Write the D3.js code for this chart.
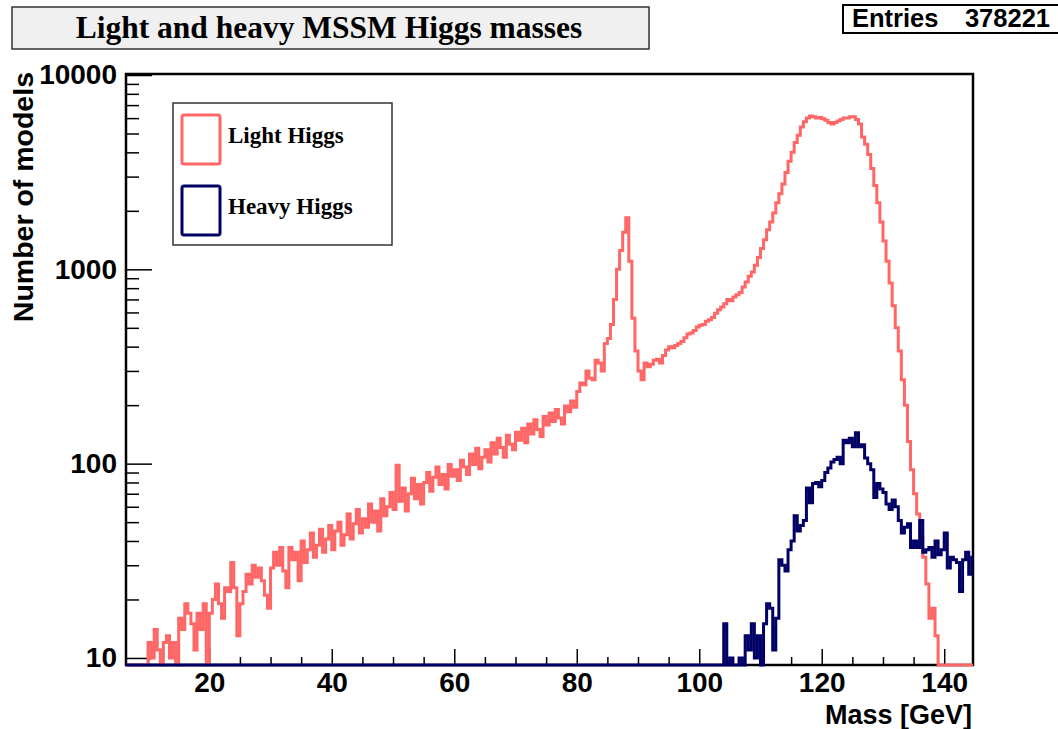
<!DOCTYPE html>
<html>
<head>
<meta charset="utf-8">
<script src="https://cdn.jsdelivr.net/npm/d3@7"></script>
<style>
  body { margin: 0; background: #fff; }
  .axis text { font-family: "Liberation Sans", Arial, sans-serif; font-weight: bold; font-size: 28px; fill: #000; }
  .axis line { stroke: #000; stroke-width: 1.5; }
</style>
</head>
<body>
<div id="chart"></div>
<script>
// histogram contents, 0.5 GeV bins
var binWidth = 0.5;

// light Higgs, first bin starts at 10 GeV
var lightStart = 10;
var lightCounts = [
  12, 10, 14, 11, 0, 12, 13, 10, 12, 9,          // 10 - 14.5
  16, 14, 19, 17, 15, 11, 17, 14, 19, 0,         // 15 - 19.5
  17, 20, 24, 19, 16, 23, 22, 31, 23, 13,        // 20 - 24.5
  19, 22, 27, 24, 30, 26, 29, 25, 21, 18,        // 25 - 29.5
  29, 35, 30, 37, 28, 23, 37, 32, 35, 25,        // 30 - 34.5
  40, 31, 36, 44, 33, 38, 46, 35, 41, 48,        // 35 - 39.5
  36, 45, 50, 38, 43, 55, 41, 49, 58, 44,        // 40 - 44.5
  52, 47, 62, 50, 57, 45, 66, 54, 60, 71,        // 45 - 49.5
  58, 98, 64, 75, 57, 70, 84, 66, 78, 62,        // 50 - 54.5
  80, 90, 72, 85, 96, 78, 88, 74, 99, 86,        // 55 - 59.5
  93, 82, 104, 96, 88, 112, 99, 120, 94, 108,    // 60 - 64.5
  118, 102, 128, 112, 135, 121, 108, 140, 126, 118, // 65 - 69.5
  145, 132, 152, 128, 160, 142, 168, 150, 138, 175, // 70 - 74.5
  158, 182, 165, 190, 172, 160, 198, 185, 210, 195, // 75 - 79.5
  235, 260, 255, 300, 275, 270, 340, 330, 300, 415, // 80 - 84.5
  440, 520, 700, 1000, 1250, 1550, 1840, 1100, 560, 380, // 85 - 89.5
  300, 270, 330, 315, 325, 340, 345, 330, 360, 385, // 90 - 94.5
  400, 395, 405, 415, 425, 445, 465, 470, 485, 505, // 95 - 99.5
  515, 520, 540, 550, 565, 595, 620, 640, 665, 700, // 100 - 104.5
  690, 720, 740, 760, 810, 860, 920, 970, 1050, 1150, // 105 - 109.5
  1280, 1420, 1600, 1750, 1950, 2200, 2450, 2750, 3150, 3600, // 110 - 114.5
  4000, 4500, 4900, 5400, 5750, 6000, 6150, 6100, 6000, 6050, // 115 - 119.5
  5950, 5850, 5700, 5600, 5700, 5800, 5900, 6000, 6000, 6100, // 120 - 124.5
  6100, 5900, 5600, 4800, 4400, 3900, 3300, 2700, 2200, 1750, // 125 - 129.5
  1400, 1100, 850, 650, 500, 380, 270, 200, 130, 93,          // 130 - 134.5
  70, 55, 42, 33, 24, 16, 18, 13, 0, 0,                       // 135 - 139.5
  0, 0, 0, 0, 0, 0, 0, 0, 0, 0                                // 140 - 144.5
];

// heavy Higgs, first bin starts at 104 GeV
var heavyStart = 104;
var heavyCounts = [
  15, 0, 10, 0, 0, 10, 9, 13, 11, 15,            // 104 - 108.5
  10, 13, 0, 15, 19, 18, 11, 16, 32, 30,         // 109 - 113.5
  28, 36, 40, 54, 45, 48, 51, 75, 63, 79,        // 114 - 118.5
  80, 76, 82, 90, 95, 102, 105, 108, 100, 132,   // 119 - 123.5
  128, 135, 122, 144, 122, 125, 107, 100, 93, 67, // 124 - 128.5
  79, 74, 71, 62, 58, 65, 60, 51, 44, 47,        // 129 - 133.5
  49, 37, 40, 37, 51, 35, 36, 37, 33, 40,        // 134 - 138.5
  34, 36, 44, 29, 33, 32, 31, 22, 32, 35,        // 139 - 143.5
  27, 33                                         // 144 - 144.5
];

var xMajorTicks = [20, 40, 60, 80, 100, 120, 140];
var xMinorTicks = [10, 15, 25, 30, 35, 45, 50, 55, 65, 70, 75, 85, 90, 95, 105, 110, 115, 125, 130, 135];
var yMajorTicks = [10, 100, 1000, 10000];
var yMinorTicks = [20, 30, 40, 50, 60, 70, 80, 90, 200, 300, 400, 500, 600, 700, 800, 900,
                   2000, 3000, 4000, 5000, 6000, 7000, 8000, 9000];
var seriesNames = ["Light Higgs", "Heavy Higgs"];
var seriesColors = ["#ff6666", "#000066"];
var entries = 378221;

var width = 1058;
var height = 729;
var frame = { left: 126, right: 973, top: 74, bottom: 665 };
var xMin = 6.4, xMax = 144.7;
var yMin = 9.2, yMax = 10120;

var svg = d3
  .select("#chart")
  .append("svg")
  .attr("width", width)
  .attr("height", height);

var x = d3.scaleLinear().domain([xMin, xMax]).range([frame.left, frame.right]);
var y = d3.scaleLog().domain([yMin, yMax]).range([frame.bottom, frame.top]);

// title box
svg.append("rect")
  .attr("x", 12).attr("y", 7)
  .attr("width", 637).attr("height", 42)
  .attr("fill", "#f0f0f0")
  .attr("stroke", "#333")
  .attr("stroke-width", 1.5);
svg.append("text")
  .attr("x", 329).attr("y", 38)
  .attr("text-anchor", "middle")
  .style("font-family", "'Liberation Serif', 'Times New Roman', serif")
  .style("font-weight", "bold")
  .style("font-size", "31.5px")
  .text("Light and heavy MSSM Higgs masses");

// stats box
svg.append("rect")
  .attr("x", 843).attr("y", 5)
  .attr("width", 222).attr("height", 28)
  .attr("fill", "#fff")
  .attr("stroke", "#000")
  .attr("stroke-width", 2);
svg.append("text")
  .attr("x", 852).attr("y", 27)
  .style("font-family", "'Liberation Sans', Arial, sans-serif")
  .style("font-weight", "bold")
  .style("font-size", "25.5px")
  .text("Entries");
svg.append("text")
  .attr("x", 1050).attr("y", 27)
  .attr("text-anchor", "end")
  .style("font-family", "'Liberation Sans', Arial, sans-serif")
  .style("font-weight", "bold")
  .style("font-size", "25.5px")
  .text(entries);

// axes, ticks drawn inside the frame like ROOT
var gx = svg.append("g")
  .attr("class", "axis")
  .attr("transform", "translate(0," + frame.bottom + ")")
  .call(d3.axisBottom(x).tickValues(xMajorTicks).tickSize(-16).tickPadding(7).tickFormat(d3.format("d")));
gx.select(".domain").remove();

var gxMinor = svg.append("g")
  .attr("class", "axis")
  .attr("transform", "translate(0," + frame.bottom + ")")
  .call(d3.axisBottom(x).tickValues(xMinorTicks).tickSize(-8).tickFormat(""));
gxMinor.select(".domain").remove();

var gy = svg.append("g")
  .attr("class", "axis")
  .attr("transform", "translate(" + frame.left + ",0)")
  .call(d3.axisLeft(y).tickValues(yMajorTicks).tickSize(-26).tickPadding(9).tickFormat(d3.format("d")));
gy.select(".domain").remove();

var gyMinor = svg.append("g")
  .attr("class", "axis")
  .attr("transform", "translate(" + frame.left + ",0)")
  .call(d3.axisLeft(y).tickValues(yMinorTicks).tickSize(-13).tickFormat(""));
gyMinor.select(".domain").remove();

// frame
svg.append("rect")
  .attr("x", frame.left).attr("y", frame.top)
  .attr("width", frame.right - frame.left)
  .attr("height", frame.bottom - frame.top)
  .attr("fill", "none")
  .attr("stroke", "#000")
  .attr("stroke-width", 2.5);

// axis titles
svg.append("text")
  .attr("x", 972).attr("y", 724)
  .attr("text-anchor", "end")
  .style("font-family", "'Liberation Sans', Arial, sans-serif")
  .style("font-weight", "bold")
  .style("font-size", "27px")
  .text("Mass [GeV]");
svg.append("text")
  .attr("transform", "translate(33,72) rotate(-90)")
  .attr("text-anchor", "end")
  .style("font-family", "'Liberation Sans', Arial, sans-serif")
  .style("font-weight", "bold")
  .style("font-size", "28.5px")
  .text("Number of models");

// histograms
svg.append("clipPath")
  .attr("id", "plotclip")
  .append("rect")
  .attr("x", frame.left).attr("y", frame.top)
  .attr("width", frame.right - frame.left)
  .attr("height", frame.bottom - frame.top + 2);

function histPoints(start, counts) {
  var pts = [{ m: xMin, v: 0 }];
  counts.forEach(function (c, i) {
    pts.push({ m: start + i * binWidth, v: c });
  });
  pts.push({ m: start + counts.length * binWidth, v: counts[counts.length - 1] });
  return pts;
}

var step = d3.line()
  .curve(d3.curveStepAfter)
  .x(function (d) { return x(d.m); })
  .y(function (d) { return y(Math.max(d.v, yMin)); });

var series = [histPoints(lightStart, lightCounts), histPoints(heavyStart, heavyCounts)];

svg.append("g")
  .attr("clip-path", "url(#plotclip)")
  .selectAll("path")
  .data(series)
  .enter()
  .append("path")
  .attr("d", step)
  .attr("fill", "none")
  .attr("stroke", function (d, i) { return seriesColors[i]; })
  .attr("stroke-width", 3);

// legend
var legend = svg.append("g");
legend.append("rect")
  .attr("x", 173).attr("y", 103)
  .attr("width", 219).attr("height", 142)
  .attr("fill", "#fff")
  .attr("stroke", "#333")
  .attr("stroke-width", 1.5);

var entry = legend.selectAll("g.entry")
  .data(seriesNames)
  .enter()
  .append("g")
  .attr("class", "entry")
  .attr("transform", function (d, i) { return "translate(0," + i * 71 + ")"; });
entry.append("rect")
  .attr("x", 182).attr("y", 115)
  .attr("width", 38).attr("height", 49)
  .attr("rx", 2)
  .attr("fill", "none")
  .attr("stroke", function (d, i) { return seriesColors[i]; })
  .attr("stroke-width", 3);
entry.append("text")
  .attr("x", 228).attr("y", 143)
  .style("font-family", "'Liberation Serif', 'Times New Roman', serif")
  .style("font-weight", "bold")
  .style("font-size", "23px")
  .text(function (d) { return d; });
</script>
</body>
</html>
